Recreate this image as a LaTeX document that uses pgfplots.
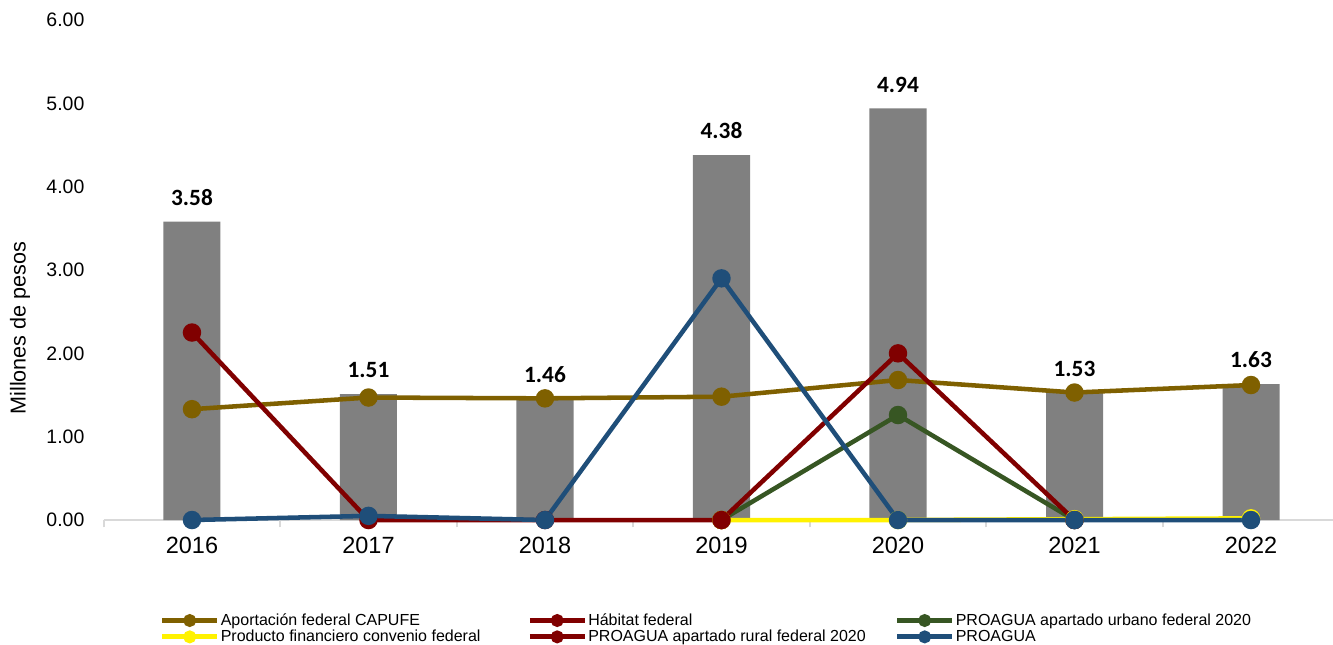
\documentclass[border=0pt]{standalone}
\usepackage{pgfplots}
\pgfplotsset{compat=1.18}
\usepackage{pgfplotstable}
\usepackage{fontspec}
\setmainfont{Liberation Sans}
\newfontfamily\calibri{Carlito}
\definecolor{barg}{RGB}{128,128,128}
\definecolor{capufe}{RGB}{127,96,0}
\definecolor{dred}{RGB}{128,0,0}
\definecolor{dgreen}{RGB}{55,86,35}
\definecolor{dblue}{RGB}{31,78,121}
\definecolor{axg}{RGB}{217,217,217}

\pgfplotstableread{
x y
0 3.58
1 1.51
2 1.46
3 4.38
4 4.94
5 1.53
6 1.63
}\bars
\pgfplotstableread{
x y
0 1.33
1 1.47
2 1.46
3 1.48
4 1.68
5 1.53
6 1.62
}\capufe
\pgfplotstableread{
x y
0 2.25
1 0
2 0
3 0
}\habitat
\pgfplotstableread{
x y
3 0
4 1.26
5 0
}\urbano
\pgfplotstableread{
x y
3 0
4 0
5 0.01
6 0.02
}\producto
\pgfplotstableread{
x y
3 0
4 2.00
5 0
}\rural
\pgfplotstableread{
x y
0 0
1 0.05
2 0
3 2.90
4 0
5 0
6 0
}\proagua

\newcommand{\lt}[1]{\makebox[229pt][l]{#1}}

\begin{document}
\begin{tikzpicture}
\begin{axis}[
  at={(0,0)}, anchor=south west,
  scale only axis,
  width=926.6pt, height=375pt,
  xmin=-0.5, xmax=6.5,
  ymin=0, ymax=6,
  clip=false,
  axis x line*=bottom,
  axis y line*=left,
  y axis line style={draw=none},
  x axis line style={draw=axg, line width=1.5pt},
  xtick={0,...,6},
  xticklabels={2016,2017,2018,2019,2020,2021,2022},
  minor xtick={-0.5,0.5,...,6.5},
  major tick length=0pt,
  minor tick length=5.5pt,
  xtick align=outside,
  minor x tick style={draw=axg, line width=1.2pt},
  ytick={0,1,...,6},
  ytick style={draw=none},
  yticklabel style={/pgf/number format/fixed, /pgf/number format/fixed zerofill, /pgf/number format/precision=2, xshift=-11pt},
  /pgf/number format/assume math mode=true,
  tick label style={font=\fontsize{14.6pt}{16pt}\selectfont},
  xticklabel style={font=\fontsize{17.6pt}{19pt}\selectfont, yshift=-9pt},
  ylabel={Millones de pesos},
  ylabel style={font=\fontsize{16.2pt}{17pt}\selectfont, at={(axis description cs:-0.0678,0.384)}, anchor=center, rotate=0},
  legend columns=3,
  legend style={
    at={(axis description cs:0,0)}, anchor=north west,
    xshift=42pt, yshift=-69pt,
    draw=none, fill=none, inner sep=0pt, row sep=0pt,
    font=\fontsize{12pt}{12.5pt}\selectfont,
    nodes={inner sep=1pt},
  },
  legend cell align=left,
  legend image code/.code={%
    \draw[line width=3.6pt, mark size=3pt, mark repeat=2, mark phase=2]
      plot coordinates {(0pt,0pt) (20.5pt,0pt) (41pt,0pt)};},
  every axis plot/.append style={line width=3.4pt, mark=*, mark size=5.2pt, mark options={solid}},
]
\addplot[ybar, bar width=0.323, fill=barg, draw=none, mark=none, forget plot,
  nodes near coords,
  point meta=y,
  nodes near coords style={font=\calibri\bfseries\fontsize{17.5pt}{18pt}\selectfont, text=black, anchor=south, yshift=7pt,
    /pgf/number format/fixed, /pgf/number format/fixed zerofill, /pgf/number format/precision=2},
] table[x=x,y=y] {\bars};
\addplot[color=capufe] table[x=x,y=y] {\capufe};
\addlegendentry{\lt{Aportación federal CAPUFE}}
\addplot[color=dred] table[x=x,y=y] {\habitat};
\addlegendentry{\lt{Hábitat federal}}
\addplot[color=dgreen] table[x=x,y=y] {\urbano};
\addlegendentry{\lt{PROAGUA apartado urbano federal 2020}}
\addplot[color=yellow] table[x=x,y=y] {\producto};
\addlegendentry{\lt{Producto financiero convenio federal}}
\addplot[color=dred] table[x=x,y=y] {\rural};
\addlegendentry{\lt{PROAGUA apartado rural federal 2020}}
\addplot[color=dblue] table[x=x,y=y] {\proagua};
\addlegendentry{\lt{PROAGUA}}
\end{axis}
\pgfresetboundingbox
\path[use as bounding box] (-77.8pt,-93pt) rectangle (921.9pt,390pt);
\end{tikzpicture}
\end{document}
